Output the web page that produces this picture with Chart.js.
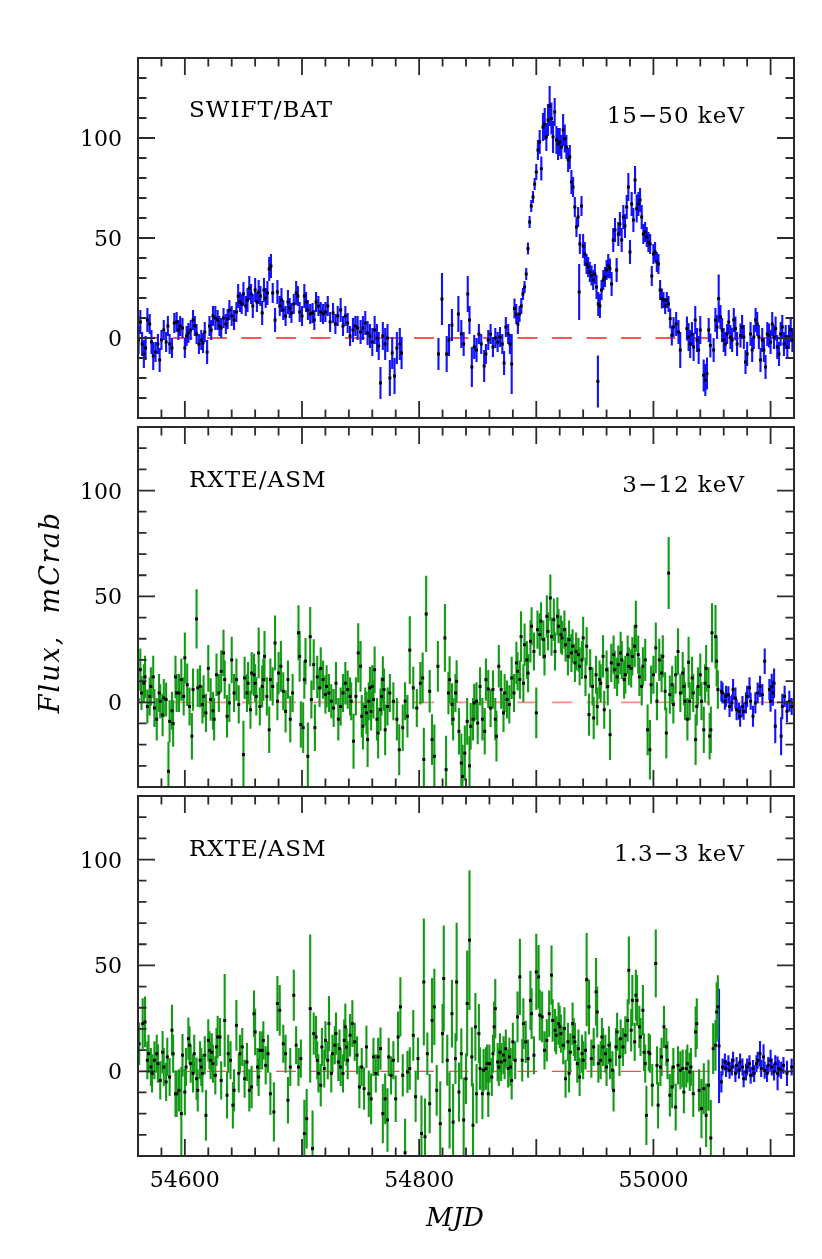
<!DOCTYPE html>
<html>
<head>
<meta charset="utf-8">
<script src="https://cdn.jsdelivr.net/npm/chart.js@4.4.0/dist/chart.umd.min.js"></script>
<style>
  body { margin: 0; background: #fff; }
  #wrap { position: relative; width: 822px; height: 1259px; }
  canvas { position: absolute; left: 0; top: 0; }
</style>
</head>
<body>
<div id="wrap">
  <canvas id="c1" width="822" height="1259"></canvas>
  <canvas id="c2" width="822" height="1259"></canvas>
  <canvas id="c3" width="822" height="1259"></canvas>
</div>
<script>
// rows are [MJD, flux in mCrab, 1-sigma error]

// SWIFT/BAT 15-50 keV
const batRows = [
  [54559,5,7],[54560.5,-1,7],[54562,8,6],[54563.5,-3,6],[54565,-8,7],[54566.5,-5,6],[54568,9,6],[54570,7,5],
  [54571.5,-2,6],[54573,-9,7],[54575,-7,5],[54577,-3,5],[54578.5,-11,6],[54580,-1,5],[54582,4,5],[54584,-2,5],
  [54585.5,6,5],[54587,-3,5],[54589,-5,5],[54591,7.5,5],[54593,8,5],[54594.5,4,5],[54596,6,5],[54598,5,5],
  [54600,-5,5],[54601.5,1,5],[54603,2.5,5],[54605,4,5],[54607,9,5],[54608.5,6,5],[54610,2,5],[54612,-3,5],
  [54614,-1,5],[54615.5,-2.5,5],[54617,3,5],[54619,-7,6],[54621,6,5],[54622.5,4,5],[54624,11,5],[54626,10,6],
  [54628,9,5],[54629.5,6,5],[54631,5,5],[54633,10,5],[54635,7,5],[54636.5,9.5,5],[54638,14,5],[54640,11,5],
  [54642,9,5],[54644,13,5],[54645.5,21,6],[54647,18,5],[54648.5,17,5],[54650,22,6],[54652,16,5],[54653.5,19,6],
  [54655,25,6],[54656.5,22,5],[54658,16,6],[54660,24,6],[54661.5,18,5],[54663,23,6],[54664.5,21,5],[54666,12.5,6],
  [54667.5,24,6],[54669,20,5],[54670.5,22.5,6],[54672,34.5,6],[54673.5,36,6],[54675,22.5,5],[54677,9,6],[54679,23,6],
  [54681,16,5],[54682.5,19,6],[54684,14,5],[54686,11,5],[54688,18,6],[54689.5,15,5],[54691,12.5,5],[54693,17,5],
  [54695,22.5,6],[54696.5,21,5],[54698,13,5],[54700,11,5],[54702,21,6],[54703.5,18,5],[54705,14,5],[54707,12,5],
  [54709,12.5,5],[54710.5,9,5],[54712,18,5],[54714,16,5],[54716,13,5],[54718,12,5],[54720,13,5],[54722,16,5],
  [54724,8,5],[54726.5,12.5,5],[54728.5,7,5],[54730.5,11,5],[54733,14,6],[54735,6,5],[54737,11,5],[54739,7.5,5],
  [54741,1,5],[54743.5,4,6],[54745.5,6,5],[54747.5,5,6],[54750,3,6],[54752,5,6],[54754,7.5,6],[54756,2.5,6],
  [54758,1,6],[54760,-2,7],[54762,4,7],[54764,0,7],[54765.5,-4,7],[54767,-22.5,8],[54769,1,7],[54771,-3,8],
  [54773,0,7],[54775,-20,9],[54777,-7.5,8],[54779,-19,9],[54781,-5,8],[54783.5,-3,8],[54785,-7.5,8],
  [54816.5,-8,8],[54819.5,19.5,13],[54823.5,-8,9],[54825.5,-1,8],[54828,6.5,8],[54833.5,12,9],[54836,2,7],[54838,-3,6],
  [54841.5,22,9],[54843,9,7],[54845,-14.5,10],[54847,-4.5,6],[54849,-6,6],[54851,2,5],[54853,-3,5],[54855.5,-14,8],
  [54857,-8,5],[54859,-1,5],[54861,2,5],[54863,-4.5,5],[54865,0,5],[54867,-2,5],[54869,0.5,5],[54871,-3,5],
  [54872.5,-12.5,6],[54874,5.5,5],[54876,2,5],[54877.5,-3,5],[54879,-13,15],
  [54881.4,14.7,5],[54882.9,12,5],[54884.3,7,5],[54885.7,12,4],[54887.2,16,4],[54888.6,22,3],[54890,25.5,3],[54891.4,32,3],
  [54892.9,44.7,3],[54894.3,58,3],[54895.7,66,3],[54897.2,70.5,3],[54898.6,77,3],[54900,83,4],[54901.4,94,5],[54902.9,98,6],
  [54904.3,84.7,6],[54905.7,105.5,7],[54907.2,107,8],[54908.6,100.5,7],[54910,109,8],[54911.4,116,10],[54912.9,109.7,8],[54914.3,100.5,8],
  [54915.7,113,7],[54917.2,99,7],[54918.6,97,8],[54920,98,7],[54921.4,95.5,6],[54922.9,104,8],[54924.3,99.7,7],[54925.7,95.5,6],
  [54927.2,89,6],[54928.6,90.5,6],[54930,78,6],[54931.4,75.5,5],[54932.9,65.5,5],[54934.3,55.5,5],[54935.7,60.5,5],[54936.6,23,14],
  [54937.2,47,5],[54938.6,66,5],[54940,46,6],[54941.4,42,6],[54942.9,37,5],[54944.3,35.5,5],[54945.7,33,5],[54947.2,31.3,5],
  [54948.6,29,5],[54950,32,5],[54951.4,25.5,6],[54952.6,-21.7,13],[54952.9,17,6],[54954.3,16,6],[54955.7,24,5],[54957.2,29,5],
  [54958.6,30.5,5],[54960,34,5],[54961.4,36,6],[54962.9,34.7,5],[54964.3,27,6],[54965.7,49,6],[54967.2,54,6],[54968.6,34,6],
  [54970,52,6],[54971.4,57,6],[54972.9,49,6],[54974.3,60.5,6],[54975.7,56,6],[54977.2,65.5,6],[54978.6,75.5,7],[54980,43,6],
  [54981.4,67,6],[54982.9,59,6],[54984.3,79,7],[54985.7,64.7,7],[54987.2,67,6],[54988.6,69,6],[54990,60.5,6],[54991.4,52,5],
  [54992.9,53,5],[54994.3,50.5,5],[54995.7,48,5],[54997.2,47,5],[54998.6,31,5],[55000,42,5],[55001.4,43,5],[55002.9,38,5],
  [55004.3,37,5],[55005.7,24,5],[55007.2,19.7,5],[55008.6,19,4],[55010,16,4],[55011.4,19,4],[55012.9,17,4],[55014.3,9.7,5],
  [55015.7,1.3,5],[55017.2,5.5,5],[55019.4,7,6],[55021.4,3,6],[55022.9,-6,9],
  [55028.6,4.7,6],[55030,0.5,7],[55031.4,-3,7],[55032.9,2,6],[55034.3,-4.5,7],[55035.7,9,7],[55037.2,-1,6],[55038.6,-6,7],
  [55040,4,7],[55042.9,-18.7,8],[55044.3,-21,8],[55045.7,-17.8,8],[55047.2,4,6],[55048.6,-3.7,6],[55051.4,-6,6],[55052.9,9,6],
  [55054.3,5.5,6],[55055.7,19.7,12],[55057.2,10.5,6],[55058.6,4,6],[55060,-1,6],[55061.4,-3,6],[55062.9,2,5],[55064.3,8,6],
  [55065.7,0.5,6],[55067.2,-1,6],[55068.6,9,6],[55070,4.7,6],[55071.4,-3,6],[55074.3,1.3,6],[55075.7,5.5,6],[55077.2,0.5,6],
  [55078.6,-12,6],[55080,-8,6],[55082.9,2,6],[55084.3,-6,6],[55085.7,0.5,6],[55087.2,9,6],[55088.6,7,6],[55090,0.5,6],
  [55091.4,-11,6],[55092.9,-1,6],[55094.3,-6,6],[55095.7,-14.5,6],[55097.2,2,6],[55098.6,1.3,6],[55100,-2,6],[55101.4,7,6],
  [55102.9,0.5,6],[55104.3,4.7,6],[55105.7,-4.5,6],[55107.2,-8,6],[55108.6,2,6],[55110,5.5,6],[55111.4,-3,6],[55112.9,0.5,6],
  [55114.3,-4.5,6],[55115.7,0.5,6],[55117.2,4,6],[55118.6,-1,6],[55120,2,6]
];

// RXTE/ASM 3-12 keV
const asmHardRows = [
  [54559,8.3,8],[54560,1.3,9],[54562,15.4,10],[54563,4.4,8],[54565,9,9],[54566,12,10],[54568,-2,8],[54570,2.8,9],
  [54571,7.5,9],[54573,12,10],[54574,-2.7,9],[54576,-8,10],[54578,4.4,9],[54579,0.5,8],[54581,-6,10],[54582,2,9],
  [54584,1.3,8],[54586,-32.6,14],[54587,-9,10],[54589,-4,9],[54590,-10,11],[54592,12,10],[54593,4.4,9],
  [54595,4.4,9],[54597,10.7,10],[54599,2.8,9],[54600,21,12],[54602,8.3,10],[54604,-2,9],[54606,-16,11],[54607,6,10],
  [54610,39.4,14],[54611,6.8,9],[54613,7.5,10],[54615,-1,9],[54616,2.8,10],[54618,-5,9],[54620,16,11],[54622,1.3,10],
  [54624,-4,9],[54625,-8,10],[54627,13,10],[54629,4.4,9],
  [54631,14.6,10],[54633,23.3,11],[54634,10.7,9],[54636,-6.6,10],[54638,-0.3,9],[54640,20,11],[54642,4.4,9],[54644,10.7,10],
  [54646,-1,9],[54650,-24.7,16],[54651,11.5,10],[54653,4.4,9],[54654,9,10],[54656,-3.5,9],[54657,13.8,10],[54659,13,10],
  [54660,9,9],[54661,2.8,9],[54663,23.3,12],[54664,-2,9],[54666,7.5,10],
  [54667,10.7,10],[54668,21.7,12],[54670,2.8,9],[54672,-13,11],[54673,10.7,10],[54675,7.5,9],[54677,28,13],[54679,0.5,9],
  [54680,13.8,10],[54682,17,12],[54684,5.2,9],[54686,-4.3,10],[54688,10.7,9],[54690,-8,11],[54692,4.4,9],[54697,32.8,13],
  [54698,21.7,12],[54699,-10.5,11],[54701,-12,12],[54702,10.7,9],[54703,19.4,11],[54705,-25.5,16],[54707,31,14],[54708,1.3,9],
  [54710,17.8,12],[54711,-12,11],[54713,12,10],[54715,6.8,9],[54716,16,10],[54718,10.7,9],[54720,3.6,9],[54721,7.5,10],
  [54723,4.4,9],[54725,0.5,8],[54727,-2.7,9],[54729,9,10],[54731,-8,10],[54733,-2,9],[54735,4.4,9],[54737,9,10],
  [54739,6,9],[54741,2.8,9],[54742,0.5,9],[54744,-18.4,13],
  [54746,2.8,9],[54748,23.3,14],[54750,17,12],[54751,-6.6,10],[54752,-11.3,11],[54754,-2,9],[54755,-5,10],[54756,-17.6,13],
  [54757,0.5,9],[54758,6.8,10],[54759,-4.3,9],[54760,7.5,10],[54761,1.3,9],[54762,15.4,11],[54764,-8,10],[54765,-14.5,12],
  [54767,-3.5,10],[54768,2.8,9],[54769,10.7,11],[54770,6,10],[54771,-13,12],[54773,-2,9],
  [54775,4.4,9],[54778,0.5,9],[54781,-8,10],[54783,-22.4,12],[54786,-12,11],[54788,0.5,9],[54790,-6.6,10],[54792,24.6,16],
  [54795,6.8,10],[54798,-2.7,9],[54801,9,10],[54803,11.5,12],[54804,-27,15],[54806,41.7,18],[54809,5.2,10],[54811,-17.6,12],
  [54813,-25.5,15],[54816,17,12],[54822,30.4,16],[54823,-31.8,16],
  [54825,4.4,10],[54826,10.7,11],[54828,-1,10],[54829,-8,10],[54831,4.4,9],[54832,9.9,10],[54834,-13.7,11],[54836,-28.7,14],
  [54837,-35,15],[54839,-24,13],[54841,-9,11],[54843,-30,14],[54844,-11.3,11],[54846,-8,10],
  [54847,-0.3,9],[54849,0.5,9],[54850,-9.8,10],[54852,7.5,9],[54854,-8,10],[54856,-13.7,11],[54857,10.7,10],[54859,6.3,9],
  [54861,-2.7,9],[54863,6,9],[54865,-8,10],[54866,-16,12],[54868,17,10],[54870,6,9],[54872,-5,9],[54873,4.4,9],
  [54875,1.3,9],[54877,-1,9],[54879,11.5,10],[54881,4.4,9],
  [54883,18.6,10],[54884,14.6,9],[54886,10.7,9],[54887,31,12],[54889,9,9],[54890,27.2,10],[54892,20,9],[54893,13.8,9],
  [54895,28.8,10],[54896,35.9,9],[54898,24,9],[54900,-5,12],[54901,34.3,9],[54903,32,10],[54904,38.3,9],[54906,29.6,9],
  [54907,21.7,9],[54909,40.6,10],[54910,33.5,9],[54912,49.3,11],[54913,31,9],[54915,39,10],[54916,24,9],
  [54918,40.6,9],[54919,35.9,8],[54921,32,9],[54922,30.4,8],[54924,34.3,9],[54925,27.2,8],[54927,21.7,9],[54928,29.6,9],
  [54930,23.3,9],[54931,26.5,8],[54933,18.6,9],[54934,24,9],[54936,22.5,8],[54937,17,9],[54939,20,9],[54940,30.4,10],
  [54942,12,9],[54943,26.5,9],[54945,-5.8,10],[54946,16,9],[54948,7.5,9],[54949,-7.4,10],[54951,13,9],[54952,-2,9],
  [54954,10.7,9],[54955,9,9],[54957,21.7,10],[54958,-3.5,9],[54960,15.4,9],[54961,7.5,9],[54963,-15.3,12],[54964,18.6,9],
  [54966,22.5,9],[54967,15.4,9],[54969,12,9],[54970,17.8,9],[54972,23.3,10],[54973,20,9],[54975,10.7,9],[54976,13,9],
  [54978,22.5,9],[54979,17,9],[54981,16,9],[54982,21.7,9],[54984,26.5,10],[54985,35.9,12],[54987,22.5,9],[54988,12,9],
  [54990,7.5,9],
  [54991,17,9],[54993,20,10],[54995,-13,12],[54997,-22.4,14],[54998,8.3,9],[55000,13,9],[55002,25.7,12],[55003,0.5,9],
  [55005,20,10],[55007,13.8,9],[55008,21.7,10],[55010,5.2,9],[55011,-14.5,12],[55013,61,17],[55014,3.6,9],[55016,8.3,9],
  [55017,-1,9],[55019,13,9],[55021,24,11],[55023,4.4,9],[55025,13.8,10],
  [55026,7.5,9],[55027,0.5,9],[55029,-8,10],[55030,18.9,12],[55031,0.5,9],[55033,11.5,10],[55034,4.4,9],[55036,-17.6,12],
  [55037,-2,9],[55038,7.5,9],[55040,13,10],[55041,0.5,9],[55043,-13,11],[55044,9,9],[55045,16,11],[55047,7.5,9],
  [55048,-16,11],[55049,-13,11],[55050,32.8,14],[55053,31,15],[55054,19.4,12],[55055,6,9]
];

// blue points after MJD 55056, panel 2
const hardTailRows = [
  [55058,5.2,5],[55059,4.4,5],[55061,0.5,4],[55062,2.8,5],[55064,3.6,4],[55065,-2,5],[55067,-0.3,4],[55068,6,5],
  [55070,2,5],[55071,-3.5,5],[55073,-4.3,4],[55074,-6.6,5],[55076,-2,5],[55077,-4.3,4],[55079,-0.3,5],[55080,2.8,5],
  [55082,6.8,5],[55083,0.5,4],[55085,-6.6,5],[55087,-0.3,5],[55089,4.4,5],[55091,7.5,5],[55093,3.6,5],[55095,19.4,6],
  [55099,6,5],[55100,0.5,5],[55101,7.5,6],[55102,4.4,6],[55103,9,7],[55104,-11.3,8],[55109,-16,9],[55110,-2,6],
  [55112,2.8,5],[55114,-4.3,5],[55116,0.5,5],[55118,-2,4],[55120,-0.3,5]
];

// RXTE/ASM 1.3-3 keV
const asmSoftRows = [
  [54559,-0.3,9],[54561,13,10],[54564,22.5,12],[54566,23.3,12],[54568,5.2,9],[54569,8.3,9],[54571,2,9],[54572,-1,9],
  [54574,5.2,9],[54576,8.3,9],[54577,3.6,9],[54579,-4.3,9],[54581,9,10],[54582,2,9],[54584,-5,9],[54585,6.8,9],
  [54587,-2.7,9],[54589,19.4,12],[54590,8.3,9],[54592,-10.6,11],[54593,-10.6,11],
  [54595,-9,10],[54597,-20,22],[54598,7.6,10],[54600,-9.8,11],[54601,2,9],[54603,15.4,10],[54604,12.3,9],[54605,3.6,9],
  [54607,-1,9],[54608,8.3,9],[54610,-3.5,10],[54611,-9,10],[54613,5.2,9],[54614,2,9],[54615,-1,9],[54617,7.6,9],
  [54618,-20.8,12],[54620,14.6,10],[54621,9.9,9],[54622,5.2,9],[54623,9,9],[54624,3.6,9],[54626,-1.9,9],[54627,11.5,9],
  [54628,16.2,10],[54630,16.2,9],
  [54631,-4.3,9],[54634,24,22],[54636,-11.3,11],[54637,8.3,9],[54639,5.2,9],[54641,-16,11],[54642,-9,10],[54644,21.7,12],
  [54646,-1,9],[54647,8.3,9],[54649,11.5,9],[54651,-3.5,9],[54653,4.4,9],[54655,-9,10],[54657,-7.4,10],[54659,27.2,11],
  [54660,18.6,11],[54662,2,9],[54663,-2.7,9],[54664,9.9,9],[54666,9.9,9],
  [54667,14.6,9],[54669,2.8,9],[54671,8.3,9],[54673,-10.6,10],[54676,-19.2,14],[54679,32,13],[54681,28.8,12],[54684,13,9],
  [54686,8.3,9],[54688,-13.7,11],[54690,2,9],[54693,35.9,12],[54695,12.3,9],[54697,2,9],[54699,6,9],[54702,-29.4,16],
  [54704,-22.4,14],[54707,29.6,35],[54709,-36.5,18],[54710,17.8,10],[54712,16.2,10],
  [54713,5.2,9],[54714,-1,9],[54716,-6.6,10],[54717,11.5,9],[54719,1.3,9],[54720,14.6,9],[54722,5.2,9],[54723,22.5,13],
  [54725,-1,9],[54726,8.3,9],[54728,12.3,9],[54729,17.8,10],[54731,4.4,9],[54732,10.7,9],[54733,2,9],[54735,-1,9],
  [54736,14.6,10],[54737,21,11],[54738,11.5,9],[54739,5.2,9],
  [54741,17,10],[54743,22.5,11],[54745,13.9,9],[54747,7.6,9],[54749,-7.4,10],[54751,2,9],[54753,-8.2,10],[54755,11.5,10],
  [54757,-10.6,11],[54759,-13,12],[54761,6.8,9],[54763,-1,9],[54765,6.8,9],[54767,10.7,10],[54769,-20,14],[54771,-13,12],
  [54773,-23,15],[54774,6.8,9],
  [54776,-1.9,9],[54778,5.2,9],[54780,-13,11],[54782,16.2,12],[54784,30.4,14],[54786,-1.9,10],[54788,-38.4,16],[54790,-0.3,10],
  [54792,1.3,10],[54795,17,12],[54797,-12,12],[54799,6,10],[54802,-29.4,18],[54804,42.2,30],[54805,-30.9,18],[54807,8.3,10],
  [54809,-15.3,14],[54811,24,20],[54813,30.4,18],[54815,-9,12],[54818,-24.7,20],[54820,17.8,14],[54821,43.8,25],[54824,5.2,12],
  [54826,-18.4,18],[54828,27.2,16],
  [54829,-24,18],[54831,6,12],[54832,42.2,28],[54834,-9.8,14],[54836,8.3,12],[54838,-23,20],[54840,-3.5,12],[54841,32,25],
  [54843,61.9,33],[54845,6.8,14],[54846,-25.5,20],[54848,21,16],[54849,-10.6,14],[54851,17.8,14],[54852,1.3,10],[54854,-10.6,12],
  [54855,0.5,10],[54857,1.3,10],
  [54858,3.6,9],[54859,-10.6,11],[54860,3.6,9],[54862,-2.7,9],[54863,8.3,9],[54864,21,12],[54865,29.6,14],[54867,4.4,9],
  [54868,2,9],[54869,9,9],[54870,4.4,9],[54872,7.6,9],[54873,5.2,9],[54874,10.7,9],[54876,1.3,9],[54877,6.8,9],
  [54878,2,9],[54879,-4.3,9],[54880,13.9,9],[54882,5.2,9],
  [54884,25.7,12],[54886,44.6,18],[54888,5.2,10],[54889,22.5,12],[54891,13.9,10],[54893,6,9],[54895,33.5,14],[54896,27.2,12],
  [54898,7.6,9],[54900,46.9,18],[54902,44.6,15],[54903,26.5,12],[54905,25.7,12],[54907,9.9,9],[54909,14.6,10],[54911,27.2,11],
  [54913,45.4,14],[54914,24,10],[54916,19.4,10],[54917,17,9],[54919,22.5,10],
  [54920,21,10],[54921,17.8,9],[54923,12.3,9],[54924,20.2,10],[54925,-3.5,9],[54927,13.9,9],[54928,-1,9],[54929,9,9],
  [54931,22.5,10],[54932,16.2,9],[54933,13.9,9],[54935,3.6,9],[54936,10.7,9],[54937,-2.7,9],[54939,8.3,9],[54940,5.2,9],
  [54942,9.9,9],[54943,43.3,22],[54945,30.4,13],[54947,6,9],[54949,11.5,9],[54951,37.5,16],[54952,28,12],[54953,3.6,9],
  [54955,5.2,9],
  [54956,16.2,9],[54957,11.5,9],[54959,8.3,9],[54960,2,9],[54962,12.3,9],[54963,5.2,9],[54965,0.5,9],[54966,-9,10],
  [54968,11.5,9],[54969,18.6,9],[54971,6.8,9],[54972,15.4,9],[54974,11.5,9],[54976,17,9],[54978,24,10],[54979,47.7,16],
  [54981,19.4,10],[54982,33.5,12],[54984,13.9,9],[54985,35.9,12],[54986,33.5,12],[54988,21,10],[54989,16.2,9],
  [54991,28.8,12],[54992,9,9],[54993,3.6,9],[54994,-20.8,14],[54996,9,9],[54997,8.3,9],[54999,-6.6,10],[55002,50.9,16],
  [55003,2.8,9],[55004,-16,11],[55006,2,9],[55007,6.8,9],[55009,21,10],[55011,11.5,9],[55012,5.2,9],[55014,-11.3,10],
  [55016,-7.4,10],[55017,2,9],[55019,-16.9,11],[55021,2.8,9],[55023,0.5,9],[55025,1.3,9],
  [55026,-9.8,10],[55028,1.3,9],[55029,3.6,9],[55031,-0.3,9],[55032,2,9],[55034,-10.6,11],[55036,18.6,12],[55037,22.5,12],
  [55039,-9,10],[55041,-17.6,14],[55043,-8.2,12],[55045,-20.8,15],[55047,-6.6,12],[55049,-31.5,18],[55051,10.7,12],[55053,12.3,12],
  [55054,28,14],[55055,30.4,15]
];

// blue points after MJD 55056, panel 3
const softTailRows = [
  [55056,12,27],[55058,-5,5],[55059,2,4],[55061,4.4,4],[55062,1.3,4],[55064,3.6,4],[55065,0.5,4],[55067,2,4],
  [55068,5.2,4],[55070,-1,4],[55071,2.8,4],[55073,0.5,4],[55074,4.4,4],[55076,2,4],[55077,-3.5,4],[55079,-0.3,4],
  [55080,2,4],[55082,3.6,4],[55083,-1.9,4],[55085,1.3,4],[55086,-1,4],[55088,3.6,4],[55089,5.2,4],[55091,8.3,6],
  [55092,1.3,4],[55094,6.8,6],[55095,0.5,4],[55097,-1,4],[55098,2.8,4],[55100,5.2,5],[55101,2,4],[55103,-0.3,4],
  [55104,3.6,4],[55106,-1,8],[55107,1.3,4],[55109,0.5,4],[55111,2.8,4],[55114,-1,6],[55118,2,4]
];

const mjdRange = [54560, 55120];
const xLabelValues = [54600, 54800, 55000];
const yLabelValues = [0, 50, 100];
const zeroLine = [{ x: 54560, y: 0 }, { x: 55120, y: 0 }];

const SERIF = '"DejaVu Serif", "Liberation Serif", serif';
const BLUE = "#1212ff";
const GREEN = "#149a17";

function toPoints(rows) {
  return rows.map((r) => ({ x: r[0], y: r[1] }));
}
function toErrors(rows) {
  return rows.map((r) => r[2]);
}

// error bars, ticks, frame and labels (all positions from the chart scales)
function makeFrame(cfg) {
  return {
    id: "frame",
    beforeDatasetDraw(chart, args) {
      const ds = chart.data.datasets[args.index];
      if (!ds.errors) return;
      const ctx = chart.ctx;
      const a = chart.chartArea;
      const ys = chart.scales.y;
      ctx.save();
      ctx.beginPath();
      ctx.rect(a.left, a.top, a.right - a.left, a.bottom - a.top);
      ctx.clip();
      ctx.strokeStyle = ds.errorColor;
      ctx.lineWidth = 2.1;
      ctx.beginPath();
      args.meta.data.forEach((el, i) => {
        const v = ds.data[i].y;
        const e = ds.errors[i];
        ctx.moveTo(el.x, ys.getPixelForValue(v - e));
        ctx.lineTo(el.x, ys.getPixelForValue(v + e));
      });
      ctx.stroke();
      ctx.restore();
    },
    afterDraw(chart) {
      const ctx = chart.ctx;
      const a = chart.chartArea;
      const xs = chart.scales.x;
      const ys = chart.scales.y;
      ctx.save();
      ctx.strokeStyle = "#2a2a2a";
      ctx.lineWidth = 1.8;

      // ticks on all four sides
      ctx.beginPath();
      for (let v = xs.min + 20; v < xs.max; v += 20) {
        const px = xs.getPixelForValue(v);
        const len = v % 100 === 0 ? 17 : 8.5;
        ctx.moveTo(px, a.bottom);
        ctx.lineTo(px, a.bottom - len);
        ctx.moveTo(px, a.top);
        ctx.lineTo(px, a.top + len);
      }
      for (let v = ys.min + 10; v < ys.max; v += 10) {
        const py = ys.getPixelForValue(v);
        const len = v % 50 === 0 ? 17 : 8.5;
        ctx.moveTo(a.left, py);
        ctx.lineTo(a.left + len, py);
        ctx.moveTo(a.right, py);
        ctx.lineTo(a.right - len, py);
      }
      ctx.stroke();

      ctx.lineWidth = 2;
      ctx.strokeRect(a.left, a.top, a.right - a.left, a.bottom - a.top);

      // y tick labels
      ctx.fillStyle = "#000";
      ctx.font = "22px " + SERIF;
      ctx.textAlign = "right";
      ctx.textBaseline = "alphabetic";
      yLabelValues.forEach((v) => {
        ctx.fillText(String(v), a.left - 16, ys.getPixelForValue(v) + 8);
      });

      // panel captions
      ctx.font = "23px " + SERIF;
      ctx.letterSpacing = "1px";
      ctx.textAlign = "left";
      ctx.fillText(cfg.title, a.left + 51, a.top + cfg.titleDy);
      ctx.textAlign = "right";
      ctx.fillText(cfg.band, 745, a.top + cfg.bandDy);
      ctx.letterSpacing = "0px";

      if (cfg.xLabels) {
        ctx.font = "22px " + SERIF;
        ctx.textAlign = "center";
        xLabelValues.forEach((v) => {
          ctx.fillText(String(v), xs.getPixelForValue(v), a.bottom + 31);
        });
        ctx.font = "italic 26px " + SERIF;
        ctx.fillText("MJD", 455, a.bottom + 70);
      }
      if (cfg.yTitle) {
        ctx.save();
        ctx.translate(59, 612);
        ctx.rotate(-Math.PI / 2);
        ctx.font = "italic 27px " + SERIF;
        ctx.letterSpacing = "2px";
        ctx.textAlign = "center";
        ctx.fillText("Flux,  mCrab", 0, 0);
        ctx.restore();
      }
      ctx.restore();
    },
  };
}

function buildPanel(id, cfg) {
  const datasets = [];
  cfg.series.forEach((s) => {
    datasets.push({
      type: "scatter",
      data: toPoints(s.rows),
      errors: toErrors(s.rows),
      errorColor: s.color,
      pointStyle: "rect",
      pointRadius: 2.1,
      pointBackgroundColor: "#000",
      pointBorderWidth: 0,
      order: 1,
    });
  });
  datasets.push({
    type: "line",
    data: zeroLine,
    borderColor: cfg.zeroColor,
    borderWidth: cfg.zeroWidth,
    borderDash: [20, 14.5],
    pointRadius: 0,
    fill: false,
    order: 5,
  });

  return new Chart(document.getElementById(id), {
    type: "scatter",
    data: { datasets: datasets },
    options: {
      responsive: false,
      animation: false,
      events: [],
      layout: {
        padding: { left: 138, right: 28, top: cfg.top, bottom: 1259 - cfg.bottom },
      },
      plugins: {
        legend: { display: false },
        tooltip: { enabled: false },
      },
      scales: {
        x: { type: "linear", min: mjdRange[0], max: mjdRange[1], display: false },
        y: { type: "linear", min: cfg.yMin, max: cfg.yMax, display: false },
      },
    },
    plugins: [makeFrame(cfg)],
  });
}

buildPanel("c1", {
  top: 58, bottom: 418, yMin: -40, yMax: 140,
  title: "SWIFT/BAT", band: "15\u221250 keV", titleDy: 59, bandDy: 65,
  zeroColor: "#ff2020", zeroWidth: 1.3,
  series: [{ rows: batRows, color: BLUE }],
});

buildPanel("c2", {
  top: 427, bottom: 787, yMin: -40, yMax: 130,
  title: "RXTE/ASM", band: "3\u221212 keV", titleDy: 60, bandDy: 65,
  zeroColor: "rgba(255,60,60,0.6)", zeroWidth: 1.8, yTitle: true,
  series: [{ rows: asmHardRows, color: GREEN }, { rows: hardTailRows, color: BLUE }],
});

buildPanel("c3", {
  top: 796, bottom: 1156, yMin: -40, yMax: 130,
  title: "RXTE/ASM", band: "1.3\u22123 keV", titleDy: 60, bandDy: 65,
  zeroColor: "#ff4a4a", zeroWidth: 1.2, xLabels: true,
  series: [{ rows: asmSoftRows, color: GREEN }, { rows: softTailRows, color: BLUE }],
});
</script>
</body>
</html>
